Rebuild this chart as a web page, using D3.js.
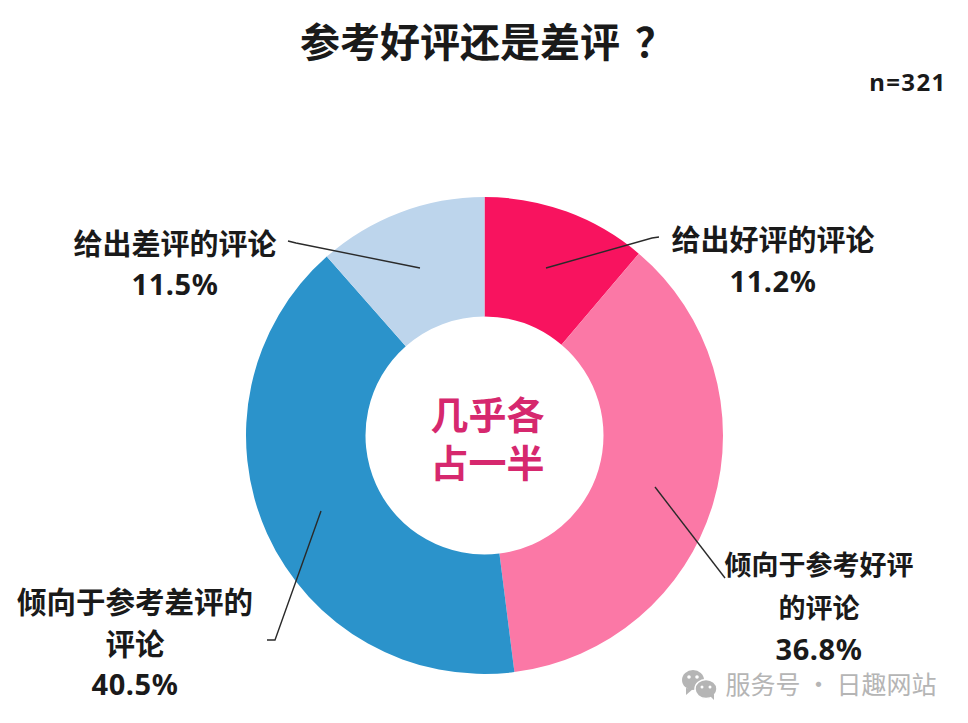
<!DOCTYPE html>
<html lang="zh-CN">
<head>
<meta charset="utf-8">
<script src="https://cdn.jsdelivr.net/npm/d3@7"></script>
<style>
  html, body { margin: 0; padding: 0; background: #fff; }
  svg { display: block; }
  text { font-family: "Noto Sans CJK SC", "Noto Sans", sans-serif; fill: #1a1a1a; text-anchor: middle; }
  .label { font-weight: 700; }
  .pct { font-size: 29px; font-weight: 700; font-family: "Noto Sans", sans-serif; letter-spacing: 0.6px; }
</style>
</head>
<body>
<svg id="chart" width="968" height="723"></svg>
<script>
  const categories = ["给出好评的评论", "倾向于参考好评的评论", "倾向于参考差评的评论", "给出差评的评论"]
  const values = [11.2, 36.8, 40.5, 11.5]
  const colors = ["#f8135f", "#fb78a6", "#2b93cb", "#bdd5ec"]
  const titleText = "参考好评还是差评"
  const titleMark = "？"
  const sampleText = "n=321"
  const centerLines = ["几乎各", "占一半"]
  const watermarkText = "服务号 · 日趣网站"

  const svg = d3.select("#chart")
  const cx = 484.5, cy = 435.5, outerR = 238.5, innerR = 119

  // Label blocks, same order as categories
  const labelLayout = [
    { x: 773, size: 29, lines: [{ t: "给出好评的评论", y: 250.5 }], pctY: 292 },
    { x: 819, size: 27, lines: [{ t: "倾向于参考好评", y: 575 }, { t: "的评论", y: 618 }], pctY: 660 },
    { x: 135, size: 29.5, lines: [{ t: "倾向于参考差评的", y: 613 }, { t: "评论", y: 655 }], pctY: 695 },
    { x: 175, size: 29, lines: [{ t: "给出差评的评论", y: 255 }], pctY: 295 }
  ]
  const leaders = [
    [[546, 268], [652, 238], [659, 237]],
    [[655, 487], [725, 578]],
    [[321, 511], [275, 640], [267, 640]],
    [[420, 268], [296, 243], [288, 241]]
  ]

  const pie = d3.pie().sort(null).value(d => d)
  const arc = d3.arc().innerRadius(innerR).outerRadius(outerR)

  svg.append("g")
      .attr("transform", `translate(${cx},${cy})`)
      .selectAll("path")
      .data(pie(values))
      .enter().append("path")
      .attr("d", arc)
      .attr("fill", (d, i) => colors[i])

  const line = d3.line()
  svg.append("g")
      .selectAll("path")
      .data(leaders)
      .enter().append("path")
      .attr("d", line)
      .attr("fill", "none")
      .attr("stroke", "#2a2a2a")
      .attr("stroke-width", 1.4)

  // Title, the question mark sits further right than the font puts it
  const title = svg.append("text")
      .attr("x", 300).attr("y", 57)
      .style("text-anchor", "start")
      .style("font-size", "40px").style("font-weight", 700)
      .text(titleText)
  title.append("tspan")
      .attr("dx", 15)
      .text(titleMark)

  svg.append("text")
      .attr("x", 908).attr("y", 91)
      .style("font-size", "24px").style("font-weight", 700)
      .style("font-family", '"Noto Sans", sans-serif')
      .style("letter-spacing", "1.4px")
      .text(sampleText)

  // Category labels with percentages
  const labels = svg.append("g")
      .selectAll("g")
      .data(labelLayout)
      .enter().append("g")
  labels.selectAll("text.label")
      .data(d => d.lines.map(l => ({ ...l, x: d.x, size: d.size })))
      .enter().append("text")
      .attr("class", "label")
      .attr("x", d => d.x).attr("y", d => d.y)
      .style("font-size", d => d.size + "px")
      .text(d => d.t)
  labels.append("text")
      .attr("class", "pct")
      .attr("x", d => d.x).attr("y", d => d.pctY)
      .text((d, i) => values[i].toFixed(1) + "%")

  // Center text, one text element with two lines
  svg.append("text")
      .style("fill", "#d6286e")
      .style("font-size", "38px").style("font-weight", 700)
      .selectAll("tspan")
      .data(centerLines)
      .enter().append("tspan")
      .attr("x", cx + 3).attr("y", (d, i) => 429 + i * 48)
      .text(d => d)

  // Watermark
  const wm = svg.append("g").attr("fill", "#b5b5b5")
  wm.append("ellipse").attr("cx", 693).attr("cy", 680).attr("rx", 11).attr("ry", 10)
  wm.append("path").attr("d", "M686,688 L686,695 L693,689 Z")
  wm.append("ellipse").attr("cx", 706).attr("cy", 689).attr("rx", 11).attr("ry", 9.5)
      .attr("stroke", "#fff").attr("stroke-width", 1.5)
  wm.append("path").attr("d", "M710,696 L714,700 L714,694 Z")
  wm.selectAll("circle")
      .data([[689, 677, 1.8], [697, 677, 1.8], [702, 687, 1.5], [710, 687, 1.5]])
      .enter().append("circle")
      .attr("cx", d => d[0]).attr("cy", d => d[1]).attr("r", d => d[2])
      .attr("fill", "#fff")
  svg.append("text")
      .attr("x", 831).attr("y", 694)
      .style("fill", "#b5b5b5")
      .style("font-size", "25px")
      .style("font-weight", 400)
      .text(watermarkText)
</script>
</body>
</html>
